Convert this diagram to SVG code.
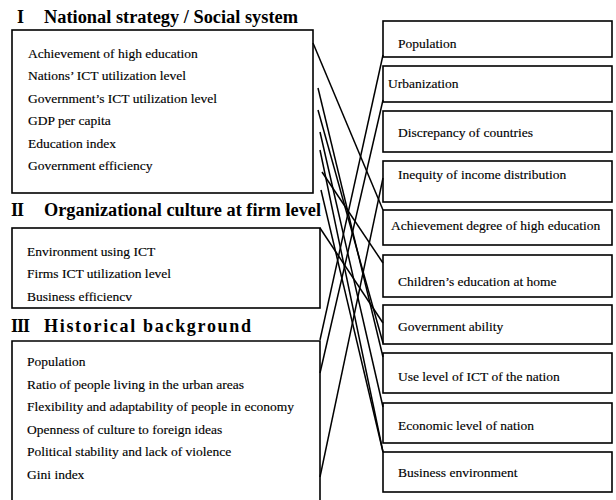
<svg xmlns="http://www.w3.org/2000/svg" width="616" height="500" viewBox="0 0 616 500">
<style>
.box{fill:none;stroke:#000;stroke-width:1.6}
.t{font-family:"Liberation Serif","Times New Roman",serif;font-size:13.5px;fill:#000;stroke:#000;stroke-width:0.15}
.h{font-family:"Liberation Serif","Times New Roman",serif;font-size:18px;font-weight:bold;fill:#000}
.c{stroke:#000;stroke-width:1.5;fill:none}
</style>
<rect width="616" height="500" fill="#fff"/>
<g id="group1">
<text class="h" x="17" y="23">I</text>
<text class="h" x="44" y="23" textLength="254" lengthAdjust="spacingAndGlyphs">National strategy / Social system</text>
<rect class="box" x="12" y="30" width="301" height="163"/>
<text class="t" x="28" y="58">Achievement of high education</text>
<text class="t" x="28" y="80">Nations’ ICT utilization level</text>
<text class="t" x="28" y="103">Government’s ICT utilization level</text>
<text class="t" x="28" y="125">GDP per capita</text>
<text class="t" x="28" y="148">Education index</text>
<text class="t" x="28" y="170">Government efficiency</text>
</g>
<g id="group2">
<text class="h" x="11" y="216" letter-spacing="-1">II</text>
<text class="h" x="44" y="216" textLength="277" lengthAdjust="spacingAndGlyphs">Organizational culture at firm level</text>
<rect class="box" x="12" y="228" width="308" height="80"/>
<text class="t" x="27" y="256">Environment using ICT</text>
<text class="t" x="27" y="278">Firms ICT utilization level</text>
<text class="t" x="27" y="301">Business efficiencv</text>
</g>
<g id="group3">
<text class="h" x="11" y="332" letter-spacing="-1">III</text>
<text class="h" x="44" y="332" textLength="207" lengthAdjust="spacing">Historical background</text>
<path class="box" d="M12,501 V341 H320 V501"/>
<text class="t" x="27" y="366">Population</text>
<text class="t" x="27" y="389">Ratio of people living in the urban areas</text>
<text class="t" x="27" y="411">Flexibility and adaptability of people in economy</text>
<text class="t" x="27" y="434">Openness of culture to foreign ideas</text>
<text class="t" x="27" y="456">Political stability and lack of violence</text>
<text class="t" x="27" y="479">Gini index</text>
</g>
<g id="r1"><rect class="box" x="383" y="21" width="229" height="36"/><text class="t" x="398" y="48">Population</text></g>
<g id="r2"><rect class="box" x="383" y="66" width="229" height="36"/><text class="t" x="388" y="88">Urbanization</text></g>
<g id="r3"><rect class="box" x="383" y="111" width="229" height="41"/><text class="t" x="398" y="137">Discrepancy of countries</text></g>
<g id="r4"><rect class="box" x="383" y="161" width="229" height="41"/><text class="t" x="398" y="179">Inequity of income distribution</text></g>
<g id="r5"><rect class="box" x="383" y="210" width="229" height="35"/><text class="t" x="391" y="230">Achievement degree of high education</text></g>
<g id="r6"><rect class="box" x="383" y="255" width="229" height="42"/><text class="t" x="398" y="286">Children’s education at home</text></g>
<g id="r7"><rect class="box" x="383" y="305" width="229" height="39"/><text class="t" x="398" y="331">Government ability</text></g>
<g id="r8"><rect class="box" x="383" y="353" width="229" height="40"/><text class="t" x="398" y="381">Use level of ICT of the nation</text></g>
<g id="r9"><rect class="box" x="383" y="403" width="229" height="40"/><text class="t" x="398" y="430">Economic level of nation</text></g>
<g id="r10"><rect class="box" x="383" y="452" width="229" height="40"/><text class="t" x="398" y="477">Business environment</text></g>
<g id="connectors">
<line class="c" x1="313" y1="43" x2="383" y2="210"/>
<line class="c" x1="318" y1="88" x2="383" y2="357"/>
<line class="c" x1="318" y1="110" x2="383" y2="343"/>
<line class="c" x1="320" y1="132" x2="383" y2="407"/>
<line class="c" x1="320" y1="150" x2="383" y2="452"/>
<line class="c" x1="322" y1="172" x2="383" y2="263"/>
<line class="c" x1="320" y1="228" x2="383" y2="323"/>
<line class="c" x1="321" y1="190" x2="383" y2="452"/>
<line class="c" x1="320" y1="340" x2="383" y2="55"/>
<line class="c" x1="320" y1="373" x2="383" y2="100"/>
<line class="c" x1="320" y1="477" x2="383" y2="178"/>
</g>
</svg>
